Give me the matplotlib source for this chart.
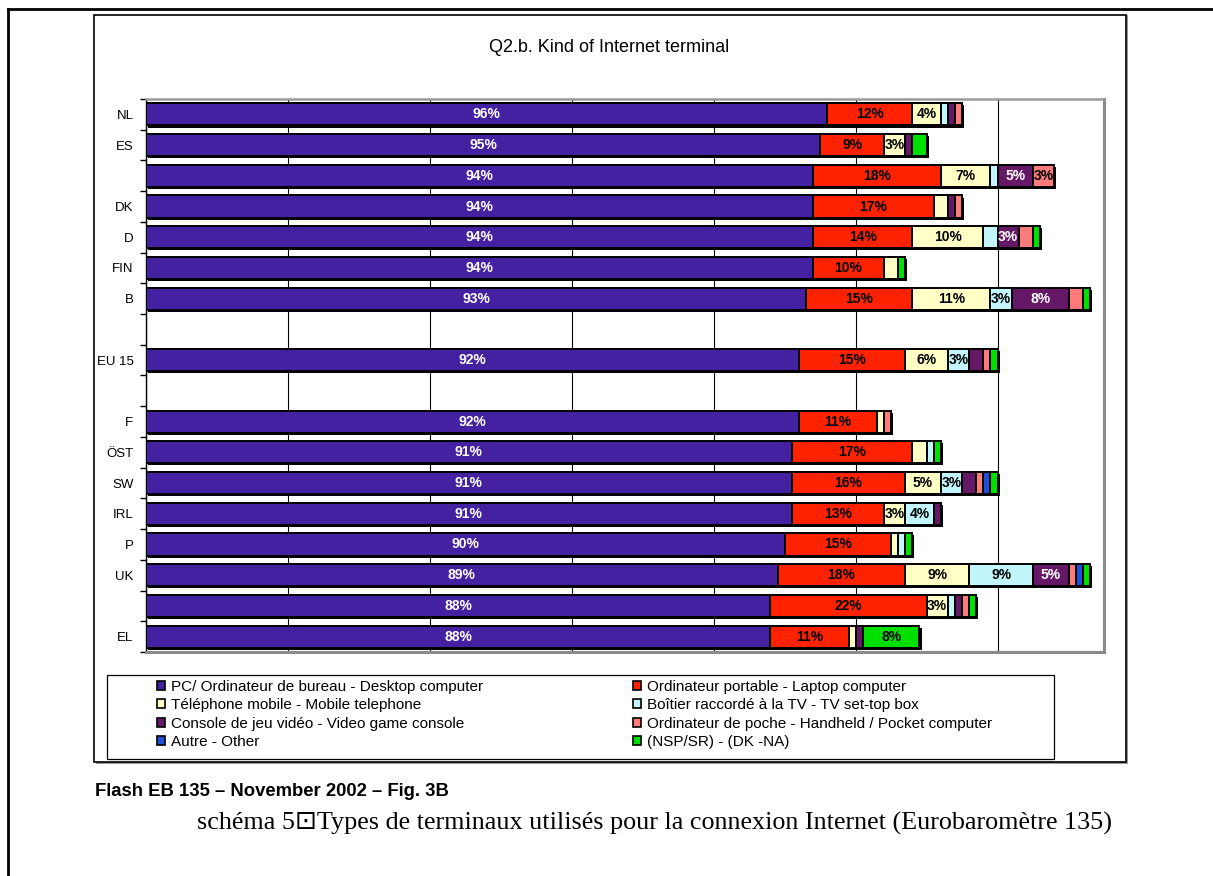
import numpy as np
import matplotlib
matplotlib.use('Agg')
import matplotlib.pyplot as plt
import matplotlib.patheffects as pe
from matplotlib.patches import Rectangle
from matplotlib.lines import Line2D

plt.rcParams['font.family'] = ['Liberation Sans', 'DejaVu Sans']

# rows from top to bottom (two rows have no label in the original)
countries = ['NL', 'ES', '', 'DK', 'D', 'FIN', 'B', 'EU 15',
             'F', 'ÖST', 'SW', 'IRL', 'P', 'UK', ' ', 'EL']
gap_after = ['B', 'EU 15']

series = ['PC/ Ordinateur de bureau - Desktop computer',
          'Ordinateur portable - Laptop computer',
          'Téléphone mobile - Mobile telephone',
          'Boîtier raccordé à la TV - TV set-top box',
          'Console de jeu vidéo - Video game console',
          'Ordinateur de poche - Handheld / Pocket computer',
          'Autre - Other',
          '(NSP/SR) - (DK -NA)']

desktop  = [96, 95, 94, 94, 94, 94, 93, 92, 92, 91, 91, 91, 90, 89, 88, 88]
laptop   = [12, 9, 18, 17, 14, 10, 15, 15, 11, 17, 16, 13, 15, 18, 22, 11]
mobile   = [4, 3, 7, 2, 10, 2, 11, 6, 1, 2, 5, 3, 1, 9, 3, 1]
settop   = [1, 0, 1, 0, 2, 0, 3, 3, 0, 1, 3, 4, 1, 9, 1, 0]
console  = [1, 1, 5, 1, 3, 0, 8, 2, 0, 0, 2, 1, 0, 5, 1, 1]
handheld = [1, 0, 3, 1, 2, 0, 2, 1, 1, 0, 1, 0, 0, 1, 1, 0]
other    = [0, 0, 0, 0, 0, 0, 0, 0, 0, 0, 1, 0, 0, 1, 0, 0]
dk_na    = [0, 2, 0, 0, 1, 1, 1, 1, 0, 1, 1, 0, 1, 1, 1, 8]

colors = ['#4321a1', '#ff2200', '#ffffc6', '#c2f6fc',
          '#651865', '#ff7b7b', '#1f4fd8', '#00e000']
text_colors = ['white', 'black', 'black', 'black',
               'white', 'black', 'white', 'black']

W, H = 1213, 876


def fx(x):
    return x / W


def fy(y):
    return 1 - y / H


fig = plt.figure(figsize=(W / 100, H / 100), dpi=100)

# page lines and chart frame (behind the axes)
fig.add_artist(Line2D([fx(8), fx(1213)], [fy(9), fy(9)], color='black', lw=2))
fig.add_artist(Line2D([fx(8), fx(8)], [fy(9), fy(876)], color='black', lw=2))
fig.add_artist(Rectangle((fx(96), fy(764)), fx(1032), 749 / H, fc='#9a9a9a', ec='none', zorder=-3))
fig.add_artist(Rectangle((fx(94), fy(762)), fx(1032), 747 / H, fc='white', ec='black', lw=1.2, zorder=-2))
fig.add_artist(Rectangle((fx(107), fy(759)), fx(947), 84 / H, fc='white', ec='black', lw=0.9, zorder=-1))

ax = fig.add_axes([fx(146), fy(652), fx(958), 553 / H])
ax.patch.set_alpha(0)

pos = []
y = 0
for c in countries:
    pos.append(y)
    y += 2 if c in gap_after else 1
n_slots = y

values = [desktop, laptop, mobile, settop, console, handheld, other, dk_na]
left = np.zeros(len(countries))
handles = []
for name, vals, col, tcol in zip(series, values, colors, text_colors):
    vals = np.array(vals)
    bars = ax.barh(pos, vals, left=left, height=0.72, color=col,
                   edgecolor='black', linewidth=1.4, zorder=3)
    for b in bars:
        b.set_path_effects([pe.SimplePatchShadow(offset=(1.5, -1.5), shadow_rgbFace='black', alpha=1),
                            pe.Normal()])
    ax.bar_label(bars, labels=[f'{v}%' if v >= 3 else '' for v in vals],
                 label_type='center', color=tcol, fontsize=10, fontweight='bold', zorder=4)
    handles.append(Rectangle((0, 0), 1, 1, fc=col, ec='black', lw=1.2, label=name))
    left += vals

ax.set_xlim(0, 135)
ax.set_ylim(n_slots - 0.5, -0.5)
ax.set_xticks(np.arange(0, 135, 20))
ax.xaxis.grid(True, color='black', lw=0.8)
ax.set_axisbelow(True)
ax.tick_params(axis='x', length=0, labelbottom=False)
ax.set_yticks(pos, countries)
ax.set_yticks(np.arange(-0.5, n_slots, 1), minor=True)
ax.tick_params(axis='y', which='major', length=0, pad=9, labelsize=9.5)
ax.tick_params(axis='y', which='minor', length=4, width=1, color='black')
ax.spines['left'].set_color('black')
ax.spines['left'].set_linewidth(1)
ax.spines['top'].set_color('#9a9a9a')
ax.spines['top'].set_linewidth(1.8)
for s in ['right', 'bottom']:
    ax.spines[s].set_color('#8a8a8a')
    ax.spines[s].set_linewidth(2.2)

fig.text(fx(609), fy(48), 'Q2.b. Kind of Internet terminal', ha='center', va='center', fontsize=13)

leg_kw = dict(loc='upper left', frameon=False, fontsize=11, borderpad=0, borderaxespad=0,
              handlelength=0.55, handleheight=0.55, handletextpad=0.35, labelspacing=0.28)
fig.legend(handles=[handles[i] for i in (0, 2, 4, 6)], bbox_to_anchor=(fx(157), fy(680)), **leg_kw)
fig.legend(handles=[handles[i] for i in (1, 3, 5, 7)], bbox_to_anchor=(fx(633), fy(680)), **leg_kw)

fig.text(fx(95), fy(792), 'Flash EB 135 \u2013 November 2002 \u2013 Fig. 3B',
         fontweight='bold', fontsize=13.3, va='center')
fig.text(fx(197), fy(823),
         'schéma 5\u22a1Types de terminaux utilisés pour la connexion Internet (Eurobaromètre 135)',
         family=['Liberation Serif', 'DejaVu Sans'], fontsize=18.8, va='center')

fig.savefig('out.png', dpi=100)
